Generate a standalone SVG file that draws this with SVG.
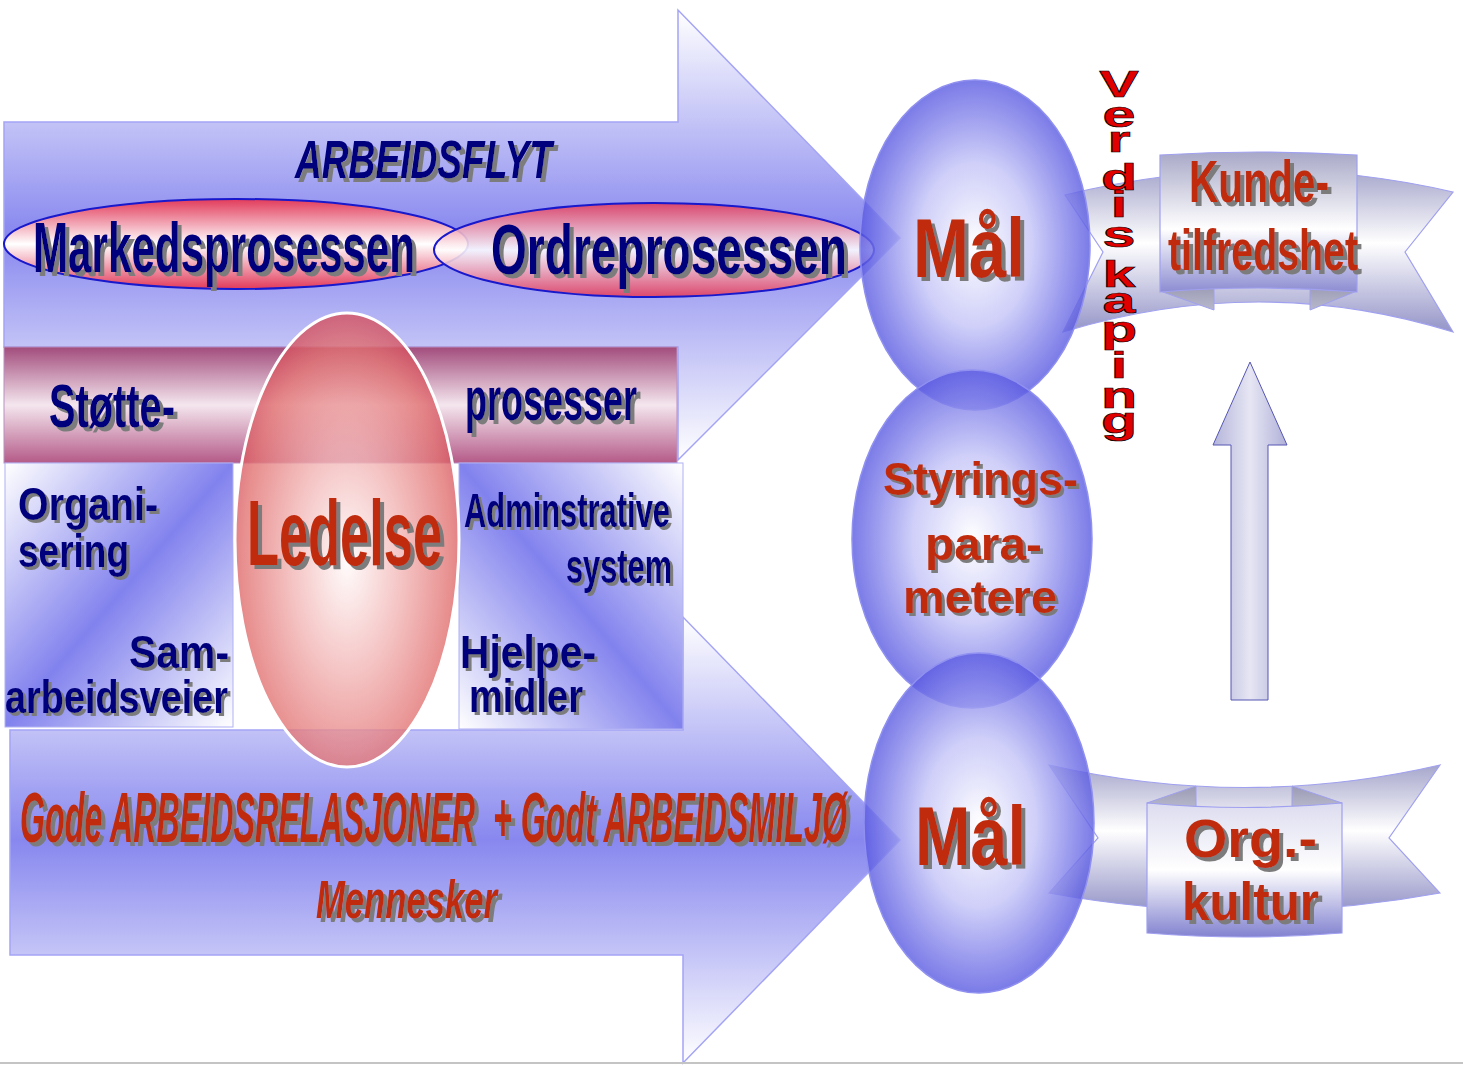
<svg xmlns="http://www.w3.org/2000/svg" width="1463" height="1066" viewBox="0 0 1463 1066">
<style>
.t{font-family:"Liberation Sans",Arial,sans-serif;font-weight:bold}
.navy{fill:#00007c}
.red{fill:#c02a0a}
.it{font-style:italic}
.sh{filter:url(#sh)}
.shs{filter:url(#shs)}
.arrow{fill:url(#arrowGrad);stroke:#a4a4f6;stroke-width:1.5}
.box{stroke:#b0b0f4;stroke-width:1}
.goal{fill:url(#goalGrad);stroke:#9090f0;stroke-width:1.5}
.proc{fill:url(#procGrad);stroke:#1818cc;stroke-width:2}
.band{stroke:#a0a0f0;stroke-width:1.2}
.fold{fill:url(#foldGrad);stroke:#a0a0f0;stroke-width:1}
</style>
<defs>
<linearGradient id="arrowGrad" x1="0" y1="0" x2="0" y2="1">
<stop offset="0" stop-color="#ffffff"/>
<stop offset="0.5" stop-color="#8787ef"/>
<stop offset="1" stop-color="#ffffff"/>
</linearGradient>
<linearGradient id="supGrad" x1="0" y1="0" x2="0" y2="1">
<stop offset="0" stop-color="#a24c7c"/>
<stop offset="0.5" stop-color="#f4e6ee"/>
<stop offset="1" stop-color="#b45a88"/>
</linearGradient>
<linearGradient id="boxGradL" x1="0" y1="0" x2="1" y2="1">
<stop offset="0" stop-color="#ffffff"/>
<stop offset="0.5" stop-color="#8282ee"/>
<stop offset="1" stop-color="#ffffff"/>
</linearGradient>
<linearGradient id="boxGradR" x1="1" y1="0" x2="0" y2="1">
<stop offset="0" stop-color="#ffffff"/>
<stop offset="0.5" stop-color="#8282ee"/>
<stop offset="1" stop-color="#ffffff"/>
</linearGradient>
<linearGradient id="procGrad" x1="0" y1="0" x2="0" y2="1">
<stop offset="0" stop-color="#e23a5a"/>
<stop offset="0.5" stop-color="#ffffff"/>
<stop offset="1" stop-color="#e23a5a"/>
</linearGradient>
<radialGradient id="ledGrad" cx="0.5" cy="0.55" r="0.55">
<stop offset="0" stop-color="#fffafa"/>
<stop offset="0.45" stop-color="#f2b4b4"/>
<stop offset="0.85" stop-color="#e27272"/>
<stop offset="1" stop-color="#d4505e"/>
</radialGradient>
<radialGradient id="goalGrad" cx="0.5" cy="0.5" r="0.5">
<stop offset="0" stop-color="#ffffff" stop-opacity="0.95"/>
<stop offset="0.5" stop-color="#c6c6f8" stop-opacity="0.85"/>
<stop offset="1" stop-color="#5a5ae2" stop-opacity="0.8"/>
</radialGradient>
<linearGradient id="ribGrad" x1="0" y1="0" x2="0" y2="1">
<stop offset="0" stop-color="#a6a6cc"/>
<stop offset="0.45" stop-color="#ffffff"/>
<stop offset="1" stop-color="#9494c8"/>
</linearGradient>
<linearGradient id="panelGrad" x1="0" y1="0" x2="0" y2="1">
<stop offset="0" stop-color="#a8a8c8"/>
<stop offset="0.55" stop-color="#ffffff"/>
<stop offset="1" stop-color="#8c8cd2"/>
</linearGradient>
<linearGradient id="panelGrad2" x1="0" y1="0" x2="0" y2="1">
<stop offset="0" stop-color="#dcdcf0"/>
<stop offset="0.5" stop-color="#ffffff"/>
<stop offset="1" stop-color="#8282d0"/>
</linearGradient>
<linearGradient id="foldGrad" x1="0" y1="0" x2="0" y2="1">
<stop offset="0" stop-color="#9a9ab4"/>
<stop offset="1" stop-color="#b8b8cc"/>
</linearGradient>
<linearGradient id="upGrad" x1="0" y1="0" x2="1" y2="0">
<stop offset="0" stop-color="#b4b4da"/>
<stop offset="0.5" stop-color="#e6e6f4"/>
<stop offset="1" stop-color="#b0b0d8"/>
</linearGradient>
<filter id="sh" x="-5%" y="-10%" width="115%" height="130%">
<feDropShadow dx="4" dy="4" stdDeviation="0.6" flood-color="#7c7c7c" flood-opacity="1"/>
</filter>
<filter id="shs" x="-5%" y="-10%" width="115%" height="130%">
<feDropShadow dx="3" dy="3" stdDeviation="0.5" flood-color="#7c7c7c" flood-opacity="1"/>
</filter>
</defs>

<rect x="0" y="0" width="1463" height="1066" fill="#ffffff"/>

<g id="arbeidsflyt-arrow">
<polygon class="arrow" points="4,122 678,122 678,10 900,238 678,460 678,347 4,347"/>
</g>
<g id="relasjoner-arrow">
<polygon class="arrow" points="10,730 683,730 683,617 900,840 683,1063 683,955 10,955"/>
</g>

<g id="stotteprosesser">
<rect x="4" y="347" width="673" height="116" fill="url(#supGrad)" stroke="#b890c0" stroke-width="1"/>
</g>

<g id="organisering">
<rect class="box" x="5" y="463" width="228" height="264" fill="url(#boxGradL)"/>
</g>
<g id="administrative">
<rect class="box" x="459" y="463" width="224" height="266" fill="url(#boxGradR)"/>
</g>

<g id="markedsprosessen">
<ellipse class="proc" cx="236" cy="244" rx="232" ry="45"/>
</g>
<g id="ordreprosessen">
<ellipse class="proc" cx="654" cy="250" rx="220" ry="47" fill-opacity="0.88"/>
</g>

<g id="ledelse">
<ellipse cx="347" cy="540" rx="112" ry="227" fill="url(#ledGrad)" fill-opacity="0.8" stroke="#ffffff" stroke-width="3"/>
</g>

<g id="kundetilfredshet">
<path class="band" fill="url(#ribGrad)" d="M1065,195 Q1260,147 1453,192 L1405,252 L1453,332 Q1260,272 1063,332 L1103,252 Z"/>
<polygon class="fold" points="1160,291 1214,285 1214,310"/>
<polygon class="fold" points="1310,285 1357,291 1310,310"/>
<path class="band" fill="url(#panelGrad)" d="M1160,155 Q1258,149 1357,155 L1357,292 Q1258,284 1160,292 Z"/>
</g>

<g id="orgkultur">
<path class="band" fill="url(#ribGrad)" d="M1049,765 Q1245,810 1440,765 L1389,838 L1440,893 Q1245,929 1049,893 L1098,838 Z"/>
<polygon class="fold" points="1147,803 1196,786 1196,808"/>
<polygon class="fold" points="1292,786 1342,803 1292,808"/>
<path class="band" fill="url(#panelGrad2)" d="M1147,803 Q1245,812 1342,803 L1342,933 Q1245,941 1147,933 Z"/>
</g>

<g id="mal-top">
<ellipse class="goal" cx="975" cy="245" rx="115" ry="165"/>
</g>
<g id="styringsparametere">
<ellipse class="goal" cx="972" cy="539" rx="120" ry="169"/>
</g>
<g id="mal-bottom">
<ellipse class="goal" cx="979" cy="823" rx="115" ry="170"/>
</g>

<g id="connectors">
<polygon points="1250,362 1287,445 1268,445 1268,700 1231,700 1231,445 1213,445" fill="url(#upGrad)" stroke="#5656b4" stroke-width="1"/>
</g>

<line x1="0" y1="1063" x2="1463" y2="1063" stroke="#c4c4c4" stroke-width="2"/>

<g id="labels">
<text class="t it navy sh" x="295" y="178" font-size="53" textLength="257" lengthAdjust="spacingAndGlyphs">ARBEIDSFLYT</text>
<text class="t navy sh" x="33" y="272" font-size="70" textLength="382" lengthAdjust="spacingAndGlyphs">Markedsprosessen</text>
<text class="t navy sh" x="491" y="274" font-size="70" textLength="356" lengthAdjust="spacingAndGlyphs">Ordreprosessen</text>
<text class="t navy sh" x="49" y="427" font-size="61" textLength="126" lengthAdjust="spacingAndGlyphs">Støtte-</text>
<text class="t navy sh" x="465" y="420" font-size="62" textLength="172" lengthAdjust="spacingAndGlyphs">prosesser</text>
<text class="t red sh" x="247" y="565" font-size="93" textLength="195" lengthAdjust="spacingAndGlyphs">Ledelse</text>
<text class="t navy shs" x="18" y="520" font-size="46" textLength="140" lengthAdjust="spacingAndGlyphs">Organi-</text>
<text class="t navy shs" x="18" y="567" font-size="46" textLength="111" lengthAdjust="spacingAndGlyphs">sering</text>
<text class="t navy shs" x="129" y="668" font-size="46" textLength="100" lengthAdjust="spacingAndGlyphs">Sam-</text>
<text class="t navy shs" x="5" y="713" font-size="46" textLength="223" lengthAdjust="spacingAndGlyphs">arbeidsveier</text>
<text class="t navy shs" x="464" y="527" font-size="48" textLength="206" lengthAdjust="spacingAndGlyphs">Adminstrative</text>
<text class="t navy shs" x="566" y="583" font-size="48" textLength="106" lengthAdjust="spacingAndGlyphs">system</text>
<text class="t navy shs" x="460" y="668" font-size="46" textLength="136" lengthAdjust="spacingAndGlyphs">Hjelpe-</text>
<text class="t navy shs" x="469" y="712" font-size="46" textLength="114" lengthAdjust="spacingAndGlyphs">midler</text>
<text class="t it red sh" x="20" y="842" font-size="70" textLength="827" lengthAdjust="spacingAndGlyphs" xml:space="preserve">Gode ARBEIDSRELASJONER  + Godt ARBEIDSMILJØ</text>
<text class="t it red sh" x="316" y="918" font-size="54" textLength="181" lengthAdjust="spacingAndGlyphs">Mennesker</text>
<text class="t red sh" x="913" y="277" font-size="84" textLength="112" lengthAdjust="spacingAndGlyphs">Mål</text>
<text class="t red sh" x="915" y="865" font-size="84" textLength="111" lengthAdjust="spacingAndGlyphs">Mål</text>
<text class="t red shs" x="883" y="495" font-size="46" textLength="195" lengthAdjust="spacingAndGlyphs">Styrings-</text>
<text class="t red shs" x="925" y="560" font-size="46" textLength="117" lengthAdjust="spacingAndGlyphs">para-</text>
<text class="t red shs" x="903" y="613" font-size="46" textLength="154" lengthAdjust="spacingAndGlyphs">metere</text>
<text class="t red sh" x="1189" y="202" font-size="60" textLength="140" lengthAdjust="spacingAndGlyphs">Kunde-</text>
<text class="t red sh" x="1168" y="270" font-size="58" textLength="190" lengthAdjust="spacingAndGlyphs">tilfredshet</text>
<text class="t red sh" x="1184" y="857" font-size="54" textLength="133" lengthAdjust="spacingAndGlyphs">Org.-</text>
<text class="t red sh" x="1182" y="920" font-size="54" textLength="137" lengthAdjust="spacingAndGlyphs">kultur</text>
</g>

<g id="verdiskaping" transform="translate(1119,0) scale(1.6,1)">
<text font-family="Liberation Sans, Arial, sans-serif" font-weight="bold" font-size="37" fill="#e00000" stroke="#000000" stroke-width="0.7" text-anchor="middle"><tspan x="0" y="97">V</tspan><tspan x="0" y="127">e</tspan><tspan x="0" y="152">r</tspan><tspan x="0" y="190">d</tspan><tspan x="0" y="217">i</tspan><tspan x="0" y="247">s</tspan><tspan x="0" y="287">k</tspan><tspan x="0" y="313">a</tspan><tspan x="0" y="342">p</tspan><tspan x="0" y="378">i</tspan><tspan x="0" y="408">n</tspan><tspan x="0" y="433">g</tspan></text>
</g>
</svg>
